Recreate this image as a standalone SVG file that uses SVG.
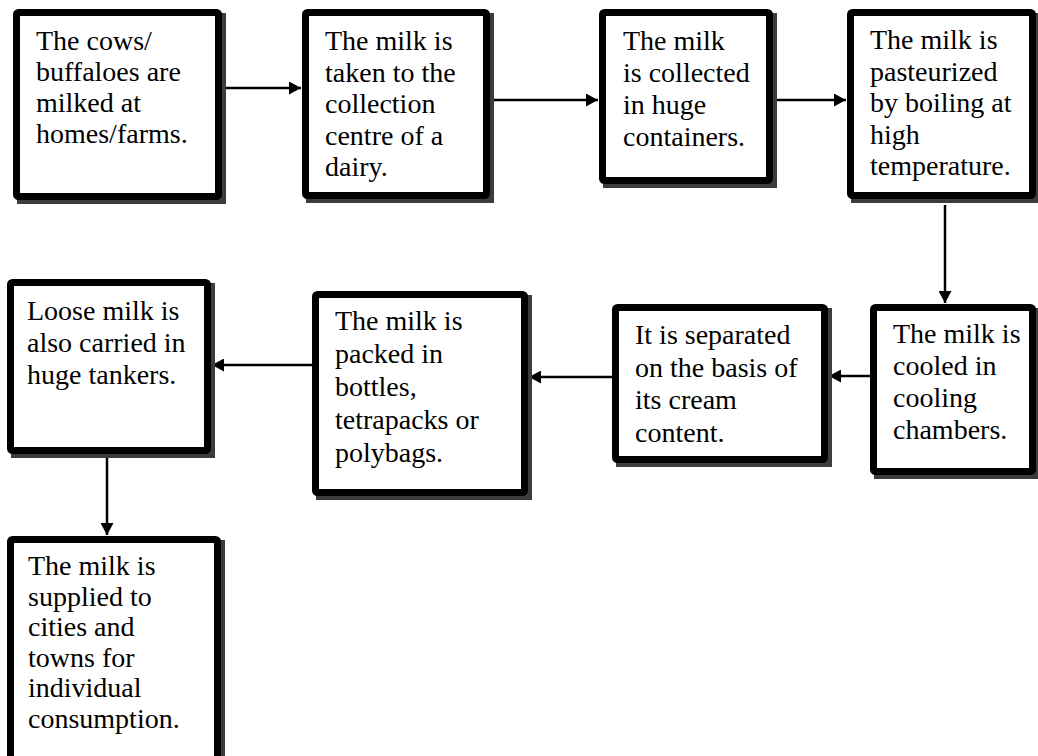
<svg xmlns="http://www.w3.org/2000/svg" width="1038" height="756" viewBox="0 0 1038 756">
<style>
.sh{fill:#3c3c3c}
.bx{fill:#fff;stroke:#000;stroke-width:7}
.t{font-family:"Liberation Serif","Times New Roman",serif;font-size:28px;fill:#000}
.c{stroke:#000;stroke-width:2.5;fill:none;marker-end:url(#ah)}
</style>
<defs>
<marker id="ah" markerUnits="userSpaceOnUse" markerWidth="12" markerHeight="13" refX="12" refY="6.5" orient="auto">
<path d="M0,0 L12,6.5 L0,13 z" fill="#000"/>
</marker>
</defs>
<rect width="1038" height="756" fill="#fff"/>
<g id="connectors">
<line class="c" x1="222" y1="88" x2="301" y2="88"/>
<line class="c" x1="490" y1="100" x2="598" y2="100"/>
<line class="c" x1="773" y1="100" x2="846" y2="100"/>
<line class="c" x1="945" y1="205" x2="945" y2="303"/>
<line class="c" x1="870" y1="376" x2="829" y2="376"/>
<line class="c" x1="612" y1="377" x2="529" y2="377"/>
<line class="c" x1="312" y1="365" x2="212" y2="365"/>
<line class="c" x1="107" y1="458" x2="107" y2="535"/>
</g>
<g id="n1">
<rect class="sh" x="17" y="13" width="209" height="191"/>
<rect class="bx" x="16.5" y="12.5" width="202" height="184" rx="2"/>
<text class="t" x="36" y="50"><tspan x="36">The cows/</tspan><tspan x="36" dy="31">buffaloes are</tspan><tspan x="36" dy="31">milked at</tspan><tspan x="36" dy="31">homes/farms.</tspan></text>
</g>
<g id="n2">
<rect class="sh" x="306" y="13" width="188" height="190"/>
<rect class="bx" x="305.5" y="12.5" width="181" height="183" rx="2"/>
<text class="t" x="325" y="50"><tspan x="325">The milk is</tspan><tspan x="325" dy="31.5">taken to the</tspan><tspan x="325" dy="31.5">collection</tspan><tspan x="325" dy="31.5">centre of a</tspan><tspan x="325" dy="31.5">dairy.</tspan></text>
</g>
<g id="n3">
<rect class="sh" x="603" y="13" width="174" height="175"/>
<rect class="bx" x="602.5" y="12.5" width="167" height="168" rx="2"/>
<text class="t" x="623" y="50"><tspan x="623">The milk</tspan><tspan x="623" dy="32">is collected</tspan><tspan x="623" dy="32">in huge</tspan><tspan x="623" dy="32">containers.</tspan></text>
</g>
<g id="n4">
<rect class="sh" x="851" y="13" width="189" height="190"/>
<rect class="bx" x="850.5" y="12.5" width="182" height="183" rx="2"/>
<text class="t" x="870" y="49"><tspan x="870">The milk is</tspan><tspan x="870" dy="31.5">pasteurized</tspan><tspan x="870" dy="31.5">by boiling at</tspan><tspan x="870" dy="31.5">high</tspan><tspan x="870" dy="31.5">temperature.</tspan></text>
</g>
<g id="n5">
<rect class="sh" x="874" y="308" width="170" height="171"/>
<rect class="bx" x="873.5" y="307.5" width="159" height="164" rx="2"/>
<text class="t" x="893" y="343"><tspan x="893">The milk is</tspan><tspan x="893" dy="32">cooled in</tspan><tspan x="893" dy="32">cooling</tspan><tspan x="893" dy="32">chambers.</tspan></text>
</g>
<g id="n6">
<rect class="sh" x="616" y="308" width="216" height="159"/>
<rect class="bx" x="615.5" y="307.5" width="209" height="152" rx="2"/>
<text class="t" x="635" y="344"><tspan x="635">It is separated</tspan><tspan x="635" dy="32.5">on the basis of</tspan><tspan x="635" dy="32.5">its cream</tspan><tspan x="635" dy="32.5">content.</tspan></text>
</g>
<g id="n7">
<rect class="sh" x="316" y="295" width="216" height="205"/>
<rect class="bx" x="315.5" y="294.5" width="209" height="198" rx="2"/>
<text class="t" x="335" y="330"><tspan x="335">The milk is</tspan><tspan x="335" dy="33">packed in</tspan><tspan x="335" dy="33">bottles,</tspan><tspan x="335" dy="33">tetrapacks or</tspan><tspan x="335" dy="33">polybags.</tspan></text>
</g>
<g id="n8">
<rect class="sh" x="11" y="283" width="204" height="175"/>
<rect class="bx" x="10.5" y="282.5" width="197" height="168" rx="2"/>
<text class="t" x="27" y="320"><tspan x="27">Loose milk is</tspan><tspan x="27" dy="32">also carried in</tspan><tspan x="27" dy="32">huge tankers.</tspan></text>
</g>
<g id="n9">
<rect class="sh" x="11" y="540" width="214" height="240"/>
<rect class="bx" x="10.5" y="539.5" width="207" height="240" rx="2"/>
<text class="t" x="28" y="575"><tspan x="28">The milk is</tspan><tspan x="28" dy="30.5">supplied to</tspan><tspan x="28" dy="30.5">cities and</tspan><tspan x="28" dy="30.5">towns for</tspan><tspan x="28" dy="30.5">individual</tspan><tspan x="28" dy="30.5">consumption.</tspan></text>
</g>
</svg>
